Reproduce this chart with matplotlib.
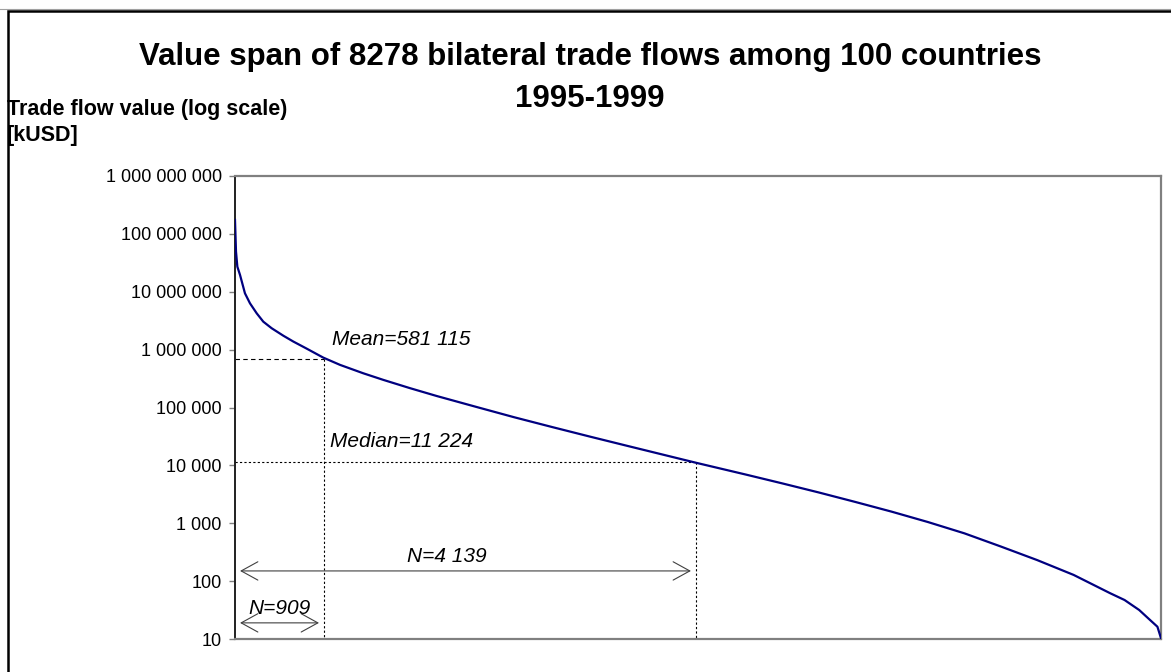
import matplotlib
matplotlib.use("Agg")
import matplotlib.pyplot as plt
from matplotlib.lines import Line2D
import matplotlib.ticker as mticker

plt.rcParams['font.family'] = ['Liberation Sans', 'DejaVu Sans']

# ---- data ----
rank = [0, 9, 21, 45, 89, 134, 194, 253, 328, 432, 521, 641, 789, 939, 1147,
        1326, 1564, 1803, 2152, 2494, 2836, 3179, 3521, 3864, 4121, 4565,
        4891, 5217, 5543, 5868, 6194, 6520, 6845, 7171, 7497, 7822, 7952,
        8083, 8180, 8246, 8278]
value = [1.74e8, 4.92e7, 2.71e7, 1.95e7, 9.40e6, 6.31e6, 4.24e6, 3.04e6,
         2.34e6, 1.74e6, 1.38e6, 1.04e6, 7.28e5, 5.45e5, 3.90e5, 3.00e5,
         2.16e5, 1.58e5, 1.03e5, 6.80e4, 4.59e4, 3.12e4, 2.14e4, 1.47e4,
         1.11e4, 6.95e3, 4.89e3, 3.41e3, 2.34e3, 1.59e3, 1.05e3, 670, 397,
         231, 128, 62, 47.2, 31.7, 21.3, 16.3, 10.3]
yticks = [10, 100, 1e3, 1e4, 1e5, 1e6, 1e7, 1e8, 1e9]
n_total = 8278

# annotation guide values (as drawn on the reference)
mean_rank, mean_level = 798, 6.8e5
median_rank, median_level = 4117, 11224
arrow_big = (45, 4076, 150)      # x0, x1, level
arrow_small = (45, 751, 19)

W, H = 1171, 672
fig = plt.figure(figsize=(W / 100, H / 100), dpi=100)
ax = fig.add_axes([235 / W, 1 - 639 / H, 926 / W, 463 / H])

ax.plot(rank, value, color='#000080', lw=1.6, solid_joinstyle='round', zorder=5)

ax.set_yscale('log')
ax.set_ylim(10, 1e9)
ax.set_xlim(0, n_total)
ax.set_yticks(yticks)
ax.yaxis.set_major_formatter(mticker.FuncFormatter(
    lambda v, p: '{:,}'.format(int(round(v))).replace(',', ' ')))
ax.yaxis.set_minor_locator(mticker.NullLocator())
ax.set_xticks([])
ax.tick_params(axis='y', length=4.5, width=1, color='#808080', pad=5,
               labelsize=13, labelcolor='black')

for s in ['top', 'right', 'bottom']:
    ax.spines[s].set_color('#808080')
    ax.spines[s].set_linewidth(1.6)
ax.spines['left'].set_color('#202020')
ax.spines['left'].set_linewidth(1.4)

# guide lines
ax.plot([0, mean_rank], [mean_level, mean_level], color='black', lw=0.8,
        dashes=(4, 3))
ax.plot([mean_rank, mean_rank], [mean_level, 10], color='black', lw=0.8,
        dashes=(2, 2))
ax.plot([0, median_rank], [median_level, median_level], color='black', lw=0.8,
        dashes=(2, 2))
ax.plot([median_rank, median_rank], [median_level, 10], color='black', lw=0.8,
        dashes=(2, 2))

for x0, x1, lev in [arrow_big, arrow_small]:
    ax.annotate('', xy=(x1, lev), xytext=(x0, lev),
                arrowprops=dict(arrowstyle='<->,head_length=0.6,head_width=0.33',
                                mutation_scale=20, lw=0.8, color='#404040',
                                shrinkA=0, shrinkB=0))

ax.text(867, 1.47e6, 'Mean=581 115', fontsize=15, style='italic',
        ha='left', va='center')
ax.text(849, 2.56e4, 'Median=11 224', fontsize=15, style='italic',
        ha='left', va='center')
ax.text(1538, 264, 'N=4 139', fontsize=15, style='italic',
        ha='left', va='center')
ax.text(115, 34, 'N=909', fontsize=15, style='italic',
        ha='left', va='center')

fig.text(590 / W, 1 - 57 / H,
         'Value span of 8278 bilateral trade flows among 100 countries',
         fontsize=22.5, fontweight='bold', ha='center', va='center')
fig.text(590 / W, 1 - 99 / H, '1995-1999', fontsize=22.5, fontweight='bold',
         ha='center', va='center')
fig.text(7 / W, 1 - 110 / H, 'Trade flow value (log scale)', fontsize=15.5,
         fontweight='bold', ha='left', va='center')
fig.text(7 / W, 1 - 135 / H, '[kUSD]', fontsize=15.5,
         fontweight='bold', ha='left', va='center')

# outer frame
fig.add_artist(Line2D([0, 1], [1 - 9 / H, 1 - 9 / H], transform=fig.transFigure,
                      color='#a0a0a0', lw=0.8))
fig.add_artist(Line2D([8 / W, 8 / W, 1], [0, 1 - 11 / H, 1 - 11 / H],
                      transform=fig.transFigure, color='black', lw=1.8,
                      solid_joinstyle='miter'))

fig.savefig('out.png', dpi=100)
